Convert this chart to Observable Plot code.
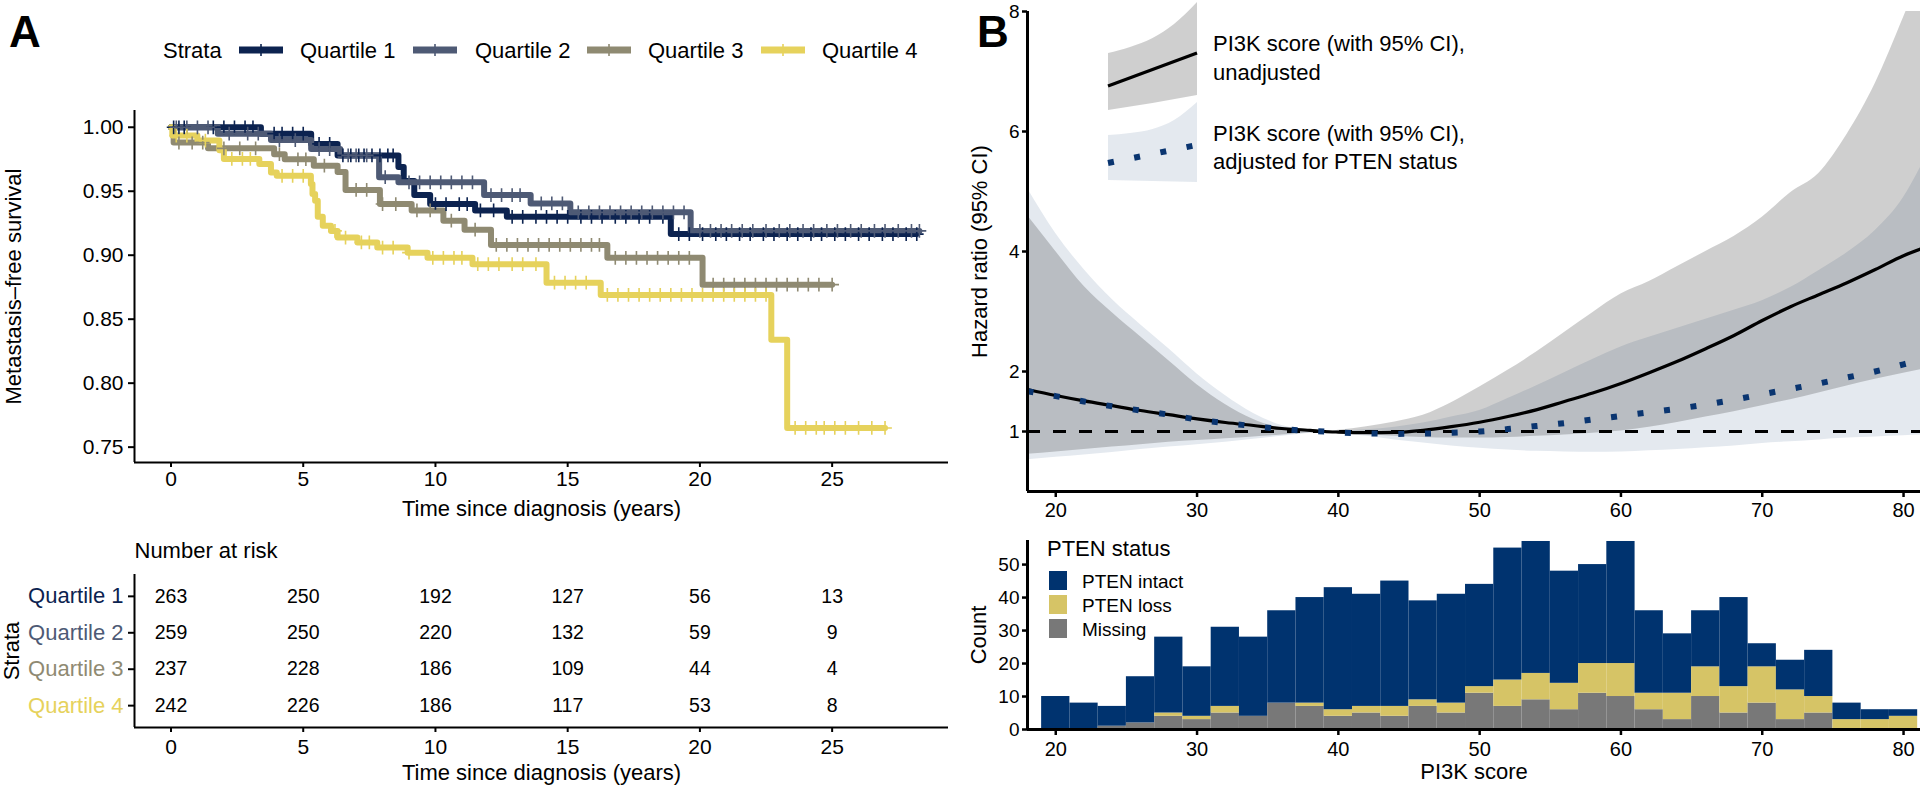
<!DOCTYPE html>
<html><head><meta charset="utf-8">
<script src="https://cdn.jsdelivr.net/npm/d3@7"></script>
<script src="https://cdn.jsdelivr.net/npm/@observablehq/plot@0.6"></script>
<style>
html,body{margin:0;padding:0;background:#fff;}
#root{position:relative;width:1920px;height:785px;overflow:hidden;font-family:"Liberation Sans",Arial,Helvetica,sans-serif;color:#000;}
#root svg{position:absolute;overflow:visible;}
</style></head><body><div id="root"></div>
<script>
// ---------------- Panel A data ----------------
const quartiles = ["Quartile 1", "Quartile 2", "Quartile 3", "Quartile 4"];
const quartileColors = ["#0c2350", "#4e5a75", "#8f8a72", "#e6d25c"];

const q1Time = [0, 3.4, 5.3, 6.3, 8.6, 8.8, 9.2, 9.8, 11.5, 12.7, 18.9, 28.2];
const q1Surv = [1.0, 0.995, 0.987, 0.978, 0.969, 0.958, 0.947, 0.940, 0.935, 0.930, 0.9165, 0.9165];
const q2Time = [0, 1.77, 3.78, 5.3, 6.4, 7.87, 8.6, 11.84, 13.6, 15.1, 19.65, 28.3];
const q2Surv = [1.0, 0.995, 0.990, 0.983, 0.978, 0.961, 0.957, 0.947, 0.9405, 0.9335, 0.919, 0.919];
const q3Time = [0, 0.1, 1.4, 3.9, 4.3, 5.4, 6.3, 6.6, 7.9, 9.1, 10.3, 11.1, 12.1, 16.5, 20.1, 25.0];
const q3Surv = [1.0, 0.988, 0.9835, 0.979, 0.975, 0.970, 0.965, 0.951, 0.940, 0.935, 0.927, 0.920, 0.908, 0.898, 0.877, 0.877];
const q4Time = [0, 0.05, 1.0, 1.83, 2.0, 3.34, 3.78, 4.0, 5.29, 5.35, 5.45, 5.55, 5.74, 6.05, 6.3, 7.05, 7.8, 8.95, 9.7, 11.4, 14.2, 16.25, 22.7, 23.3, 27.0];
const q4Surv = [1.0, 0.9935, 0.9896, 0.982, 0.9752, 0.9713, 0.9647, 0.9621, 0.9556, 0.9478, 0.9426, 0.930, 0.923, 0.919, 0.9138, 0.910, 0.906, 0.902, 0.898, 0.893, 0.8785, 0.869, 0.834, 0.765, 0.765];

const q1Censor = [0.1, 0.3, 0.5, 1.6, 2.0, 2.4, 2.8, 3.1, 3.9, 4.2, 4.6, 5.0, 5.6, 6.0, 6.5, 6.8, 7.1, 7.3, 7.6, 7.9, 8.2, 8.4, 10.0, 10.4, 10.9, 11.2, 11.7, 12.2, 12.9, 13.3, 13.8, 14.2, 14.6, 15.0, 15.5, 15.9, 16.3, 16.8, 17.2, 17.7, 18.1, 18.6, 19.2, 19.6, 20.1, 20.6, 21.0, 21.5, 21.9, 22.4, 22.8, 23.3, 23.7, 24.2, 24.6, 25.1, 25.5, 26.0, 26.4, 26.9, 27.3, 27.8, 28.2];
const q2Censor = [0.2, 0.6, 1.0, 1.4, 2.2, 2.9, 3.3, 4.1, 4.7, 5.6, 6.0, 6.7, 7.0, 7.4, 8.1, 9.0, 9.4, 9.8, 10.2, 10.6, 11.0, 11.4, 12.1, 12.5, 12.9, 13.2, 14.0, 14.4, 14.8, 15.4, 15.8, 16.2, 16.6, 17.0, 17.4, 17.8, 18.2, 18.6, 19.0, 19.4, 20.0, 20.4, 20.8, 21.2, 21.6, 22.0, 22.5, 23.0, 23.4, 23.9, 24.3, 24.8, 25.2, 25.7, 26.1, 26.6, 27.0, 27.5, 28.0, 28.3];
const q3Censor = [0.3, 0.8, 1.2, 2.0, 2.6, 3.2, 4.1, 4.8, 5.1, 5.8, 7.0, 7.4, 8.0, 8.5, 9.3, 9.8, 10.6, 11.5, 12.3, 12.7, 13.1, 13.5, 13.9, 14.3, 14.7, 15.1, 15.5, 15.9, 16.2, 16.8, 17.2, 17.6, 18.0, 18.4, 18.8, 19.2, 19.6, 20.5, 20.9, 21.3, 21.7, 22.1, 22.5, 22.9, 23.3, 23.7, 24.1, 24.5, 25.0];
const q4Censor = [0.2, 0.6, 1.3, 2.3, 2.7, 3.0, 4.2, 4.6, 5.0, 6.2, 6.6, 7.2, 7.5, 8.0, 8.4, 9.0, 9.9, 10.3, 10.7, 11.0, 11.6, 12.0, 12.4, 12.9, 13.3, 13.8, 14.5, 14.9, 15.3, 15.7, 16.5, 16.9, 17.3, 17.7, 18.1, 18.5, 18.9, 19.3, 19.7, 20.1, 20.5, 20.9, 21.3, 21.7, 22.1, 22.5, 23.6, 24.0, 24.4, 24.7, 25.1, 25.5, 26.0, 26.5, 27.0];

const riskTimes = [0, 5, 10, 15, 20, 25];
const riskQ1 = [263, 250, 192, 127, 56, 13];
const riskQ2 = [259, 250, 220, 132, 59, 9];
const riskQ3 = [237, 228, 186, 109, 44, 4];
const riskQ4 = [242, 226, 186, 117, 53, 8];

const kmXTicks = [0, 5, 10, 15, 20, 25];
const kmYTicks = [0.75, 0.80, 0.85, 0.90, 0.95, 1.00];
const kmXDomain = [-1.38, 29.4];
const kmYDomain = [0.738, 1.0131];

// ---------------- Panel B data ----------------
const pi3kGrid = [18, 20, 22, 24, 26, 28, 30, 32, 34, 36, 38, 39, 40, 42, 44, 46, 48, 50, 52, 54, 56, 58, 60, 62, 64, 66, 68, 70, 72, 74, 76, 78, 80, 81.2];
const hrUnadj     = [1.70, 1.60, 1.51, 1.43, 1.35, 1.28, 1.21, 1.15, 1.10, 1.05, 1.02, 1.00, 0.99, 0.98, 0.985, 1.02, 1.08, 1.155, 1.25, 1.36, 1.50, 1.64, 1.80, 1.98, 2.17, 2.38, 2.60, 2.85, 3.08, 3.28, 3.48, 3.70, 3.93, 4.04];
const hrUnadjLow  = [0.62, 0.66, 0.70, 0.74, 0.78, 0.82, 0.85, 0.88, 0.91, 0.94, 0.98, 1.00, 0.98, 0.95, 0.92, 0.90, 0.89, 0.89, 0.90, 0.92, 0.94, 0.97, 1.01, 1.07, 1.15, 1.24, 1.33, 1.43, 1.53, 1.64, 1.76, 1.87, 1.97, 2.03];
const hrUnadjHigh = [4.60, 4.00, 3.42, 2.98, 2.58, 2.18, 1.78, 1.45, 1.20, 1.06, 1.03, 1.00, 1.02, 1.08, 1.16, 1.27, 1.48, 1.74, 2.02, 2.32, 2.65, 2.98, 3.29, 3.50, 3.75, 4.00, 4.25, 4.57, 4.98, 5.30, 5.95, 6.80, 7.90, 8.60];
const hrAdj       = [1.67, 1.59, 1.50, 1.42, 1.35, 1.28, 1.20, 1.14, 1.09, 1.04, 1.01, 1.00, 0.985, 0.97, 0.96, 0.965, 0.98, 1.00, 1.04, 1.09, 1.14, 1.20, 1.26, 1.32, 1.38, 1.45, 1.53, 1.62, 1.71, 1.80, 1.90, 2.00, 2.12, 2.19];
const hrAdjLow    = [0.53, 0.57, 0.61, 0.65, 0.70, 0.74, 0.78, 0.82, 0.87, 0.92, 0.97, 1.00, 0.97, 0.92, 0.86, 0.81, 0.76, 0.72, 0.69, 0.67, 0.66, 0.655, 0.66, 0.68, 0.70, 0.73, 0.76, 0.80, 0.83, 0.86, 0.89, 0.91, 0.93, 0.94];
const hrAdjHigh   = [5.05, 4.30, 3.70, 3.20, 2.78, 2.38, 1.96, 1.60, 1.30, 1.10, 1.02, 1.00, 1.01, 1.03, 1.07, 1.14, 1.24, 1.35, 1.55, 1.76, 1.98, 2.20, 2.41, 2.57, 2.72, 2.87, 3.02, 3.18, 3.40, 3.68, 3.98, 4.35, 4.90, 5.40];
const hrXTicks = [20, 30, 40, 50, 60, 70, 80];
const hrYTicks = [1, 2, 4, 6, 8];
const hrXDomain = [18, 81.2];
const hrYDomain = [0, 8];

const binStarts = [19, 21, 23, 25, 27, 29, 31, 33, 35, 37, 39, 41, 43, 45, 47, 49, 51, 53, 55, 57, 59, 61, 63, 65, 67, 69, 71, 73, 75, 77, 79];
const countIntact  = [10, 8, 6, 14, 23, 15, 24, 24, 28, 32, 37, 34, 38, 30, 33, 31, 40, 40, 34, 30, 37, 25, 18, 17, 27, 7, 9, 14, 5, 3, 2];
const countLoss    = [0, 0, 0, 0, 1, 1, 2, 0, 0, 1, 2, 2, 3, 2, 3, 2, 8, 8, 8, 9, 10, 5, 8, 9, 8, 11, 9, 5, 3, 3, 4];
const countMissing = [0, 0, 1, 2, 4, 3, 5, 4, 8, 7, 4, 5, 4, 7, 5, 11, 7, 9, 6, 11, 10, 6, 3, 10, 5, 8, 3, 5, 0, 0, 0];
const ptenStatus = ["PTEN intact", "PTEN loss", "Missing"];
const ptenColors = ["#00336f", "#d6c466", "#787878"];
const histYTicks = [0, 10, 20, 30, 40, 50];
const histYDomain = [0, 57.3];

const ADJ = "#0a3570";
const FONT = "'Liberation Sans', Arial, Helvetica, sans-serif";
const root = document.getElementById("root");
function place(el, left, top) { el.style.left = left + "px"; el.style.top = top + "px"; root.appendChild(el); }
const baseStyle = {fontFamily: FONT, fontSize: "21px", color: "#000", background: "none", overflow: "visible"};
const centered = {textAnchor: "middle", lineAnchor: "middle"};

// ---------- KM rows ----------
const times = [q1Time, q2Time, q3Time, q4Time];
const survs = [q1Surv, q2Surv, q3Surv, q4Surv];
const censors = [q1Censor, q2Censor, q3Censor, q4Censor];
const kmRows = quartiles.flatMap((q, i) => times[i].map((t, j) => ({q, t, s: survs[i][j], c: quartileColors[i]})));
const censorRows = quartiles.flatMap((q, i) => censors[i].map(t => {
  const j = Math.max(0, d3.bisectRight(times[i], t) - 1);
  return {q, t, s: survs[i][j], c: quartileColors[i]};
}));

const km = Plot.plot({
  width: 960, height: 525,
  marginLeft: 134, marginRight: 12, marginTop: 110, marginBottom: 63,
  x: {domain: kmXDomain}, y: {domain: kmYDomain},
  color: {type: "identity"},
  style: baseStyle,
  marks: [
    Plot.line(kmRows, {x: "t", y: "s", z: "q", stroke: "c", strokeWidth: 6, curve: "step-after"}),
    Plot.dot(censorRows, {x: "t", y: "s", stroke: "c", symbol: "plus", r: 4.5, strokeWidth: 1.6}),
    Plot.ruleX([kmXDomain[0]], {strokeWidth: 2}),
    Plot.ruleY([kmYDomain[0]], {strokeWidth: 2}),
    Plot.axisX({ticks: kmXTicks, tickSize: 5, tickPadding: 3.5, fontSize: 21, strokeWidth: 2, label: null}),
    Plot.axisY({ticks: kmYTicks, tickSize: 6, tickPadding: 5, fontSize: 21, strokeWidth: 2, tickFormat: d3.format(".2f"), label: null}),
    Plot.text(["Metastasis\u2013free survival"], {text: d => d, frameAnchor: "left", dx: -121, rotate: -90, fontSize: 22, ...centered}),
    Plot.text(["Time since diagnosis (years)"], {text: d => d, frameAnchor: "bottom", dy: 46, fontSize: 22, ...centered})
  ]
});
place(km, 0, 0);

// ---------- Risk table ----------
const riskCounts = [riskQ1, riskQ2, riskQ3, riskQ4];
const riskRows = quartiles.flatMap((q, i) => riskTimes.map((t, j) => ({row: i + 1, t, n: String(riskCounts[i][j])})));
const risk = Plot.plot({
  width: 960, height: 255,
  marginLeft: 134, marginRight: 12, marginTop: 44, marginBottom: 58,
  x: {domain: kmXDomain}, y: {domain: [4.6, 0.4]},
  color: {type: "identity"},
  style: baseStyle,
  marks: [
    Plot.text(riskRows, {x: "t", y: "row", text: "n", fontSize: 19.5}),
    Plot.ruleX([kmXDomain[0]], {strokeWidth: 2}),
    Plot.ruleY([4.6], {strokeWidth: 2}),
    Plot.axisX({ticks: kmXTicks, tickSize: 5, tickPadding: 7, fontSize: 21, strokeWidth: 2, label: null}),
    Plot.axisY({ticks: [1, 2, 3, 4], tickSize: 6, tickFormat: () => "", strokeWidth: 2, label: null}),
    Plot.text(quartiles, {text: d => d, y: (d, i) => i + 1, frameAnchor: "left", dx: -11, textAnchor: "end", lineAnchor: "middle", fill: (d, i) => quartileColors[i], fontSize: 22}),
    Plot.text(["Strata"], {text: d => d, frameAnchor: "left", dx: -123, rotate: -90, fontSize: 22, ...centered}),
    Plot.text(["Number at risk"], {text: d => d, frameAnchor: "top-left", dy: -24, textAnchor: "start", lineAnchor: "middle", fontSize: 22}),
    Plot.text(["Time since diagnosis (years)"], {text: d => d, frameAnchor: "bottom", dy: 45, fontSize: 22, ...centered})
  ]
});
place(risk, 0, 530);

// ---------- KM legend + tag A ----------
{
  const svg = d3.create("svg").attr("width", 960).attr("height", 100)
    .attr("font-family", FONT).attr("font-size", 22);
  svg.append("text").attr("x", 9).attr("y", 47).attr("font-size", 44).attr("font-weight", "bold").text("A");
  svg.append("text").attr("x", 163).attr("y", 50).attr("dy", "0.35em").text("Strata");
  const keyX = [239, 413, 587, 761], labelX = [300, 475, 648, 822];
  quartiles.forEach((q, i) => {
    svg.append("line").attr("x1", keyX[i]).attr("x2", keyX[i] + 44).attr("y1", 50).attr("y2", 50)
      .attr("stroke", quartileColors[i]).attr("stroke-width", 7);
    svg.append("line").attr("x1", keyX[i] + 22).attr("x2", keyX[i] + 22).attr("y1", 44).attr("y2", 56)
      .attr("stroke", quartileColors[i]).attr("stroke-width", 1.6);
    svg.append("text").attr("x", labelX[i]).attr("y", 50).attr("dy", "0.35em").text(q);
  });
  place(svg.node(), 0, 0);
}

// ---------- HR plot ----------
const hrRows = pi3kGrid.map((x, i) => ({x, u: hrUnadj[i], ul: hrUnadjLow[i], uh: hrUnadjHigh[i], a: hrAdj[i], al: hrAdjLow[i], ah: hrAdjHigh[i]}));
const hr = Plot.plot({
  width: 960, height: 525,
  marginLeft: 67, marginRight: 0, marginTop: 11, marginBottom: 34,
  x: {domain: hrXDomain}, y: {domain: hrYDomain},
  style: baseStyle,
  marks: [
    Plot.areaY(hrRows, {x: "x", y1: "al", y2: "ah", fill: ADJ, fillOpacity: 0.11, curve: "monotone-x", clip: true}),
    Plot.areaY(hrRows, {x: "x", y1: "ul", y2: "uh", fill: "#000", fillOpacity: 0.19, curve: "monotone-x", clip: true}),
    Plot.ruleY([1], {strokeDasharray: "13,13", strokeWidth: 3}),
    Plot.line(hrRows, {x: "x", y: "u", stroke: "#000", strokeWidth: 3.2, curve: "monotone-x", clip: true}),
    Plot.line(hrRows, {x: "x", y: "a", stroke: ADJ, strokeWidth: 6, strokeDasharray: "6,20.7", strokeLinecap: "butt", curve: "monotone-x", clip: true}),
    Plot.ruleX([hrXDomain[0]], {strokeWidth: 3}),
    Plot.ruleY([hrYDomain[0]], {strokeWidth: 3}),
    Plot.axisX({ticks: hrXTicks, tickSize: 6, tickPadding: 4.8, fontSize: 20, strokeWidth: 2.5, label: null}),
    Plot.axisY({ticks: hrYTicks, tickSize: 5, tickPadding: 3, fontSize: 19, strokeWidth: 2.5, label: null}),
    Plot.text(["Hazard ratio (95% CI)"], {text: d => d, frameAnchor: "left", dx: -48, rotate: -90, fontSize: 22, ...centered})
  ]
});
place(hr, 960, 0);

// ---------- HR legend + tag B ----------
{
  const svg = d3.create("svg").attr("width", 420).attr("height", 200)
    .attr("font-family", FONT).attr("font-size", 22);
  svg.append("text").attr("x", 17).attr("y", 47).attr("font-size", 44).attr("font-weight", "bold").text("B");
  const edge = d3.line().curve(d3.curveMonotoneX);
  const k0 = 148, k1 = 237, km2 = (k0 + k1) / 2;
  const top1 = [[k0, 53], [k0 + 22, 47], [km2, 38], [k0 + 66, 24], [k1, 2]];
  const bot1 = [[k1, 95], [km2, 103], [k0, 110]];
  svg.append("path").attr("d", edge(top1) + "L" + edge(bot1).slice(1) + "Z").attr("fill", "#000").attr("fill-opacity", 0.19);
  svg.append("line").attr("x1", k0).attr("y1", 86).attr("x2", k1).attr("y2", 53).attr("stroke", "#000").attr("stroke-width", 3.2);
  const top2 = [[k0, 135], [k0 + 22, 133], [km2, 129], [k0 + 66, 120], [k1, 102]];
  const bot2 = [[k1, 182], [k0, 180]];
  svg.append("path").attr("d", edge(top2) + "L" + edge(bot2).slice(1) + "Z").attr("fill", ADJ).attr("fill-opacity", 0.11);
  svg.append("line").attr("x1", k0).attr("y1", 163).attr("x2", k1).attr("y2", 145).attr("stroke", ADJ)
    .attr("stroke-width", 6).attr("stroke-dasharray", "6,20.7");
  const lines = [["PI3K score (with 95% CI),", 43], ["unadjusted", 72], ["PI3K score (with 95% CI),", 133], ["adjusted for PTEN status", 161]];
  lines.forEach(([t, y]) => svg.append("text").attr("x", 253).attr("y", y).attr("dy", "0.35em").text(t));
  place(svg.node(), 960, 0);
}

// ---------- Histogram ----------
const histRows = binStarts.flatMap((b, i) => [
  {x1: b, x2: b + 2, status: "Missing", n: countMissing[i]},
  {x1: b, x2: b + 2, status: "PTEN loss", n: countLoss[i]},
  {x1: b, x2: b + 2, status: "PTEN intact", n: countIntact[i]}
]);
const hist = Plot.plot({
  width: 960, height: 255,
  marginLeft: 67, marginRight: 0, marginTop: 10, marginBottom: 56,
  x: {domain: hrXDomain}, y: {domain: histYDomain},
  color: {domain: ptenStatus, range: ptenColors},
  style: baseStyle,
  marks: [
    Plot.rectY(histRows, {x1: "x1", x2: "x2", y: "n", fill: "status", inset: 0, order: ["Missing", "PTEN loss", "PTEN intact"]}),
    Plot.ruleX([hrXDomain[0]], {strokeWidth: 3}),
    Plot.ruleY([0], {strokeWidth: 3}),
    Plot.axisX({ticks: hrXTicks, tickSize: 6, tickPadding: 5.8, fontSize: 20, strokeWidth: 2.5, label: null}),
    Plot.axisY({ticks: histYTicks, tickSize: 5, tickPadding: 3, fontSize: 19, strokeWidth: 2.5, label: null}),
    Plot.text(["Count"], {text: d => d, frameAnchor: "left", dx: -49, rotate: -90, fontSize: 22, ...centered}),
    Plot.text(["PI3K score"], {text: d => d, frameAnchor: "bottom", dy: 42, fontSize: 22, ...centered})
  ]
});
place(hist, 960, 530);

// ---------- Histogram legend ----------
{
  const svg = d3.create("svg").attr("width", 260).attr("height", 120)
    .attr("font-family", FONT).attr("font-size", 19);
  svg.append("text").attr("x", 87).attr("y", 18).attr("dy", "0.35em").attr("font-size", 22).text("PTEN status");
  ptenStatus.forEach((s, i) => {
    svg.append("rect").attr("x", 89).attr("y", 41 + 24 * i).attr("width", 18).attr("height", 19).attr("fill", ptenColors[i]);
    svg.append("text").attr("x", 122).attr("y", 51 + 24 * i).attr("dy", "0.35em").text(s);
  });
  place(svg.node(), 960, 530);
}
</script></body></html>
